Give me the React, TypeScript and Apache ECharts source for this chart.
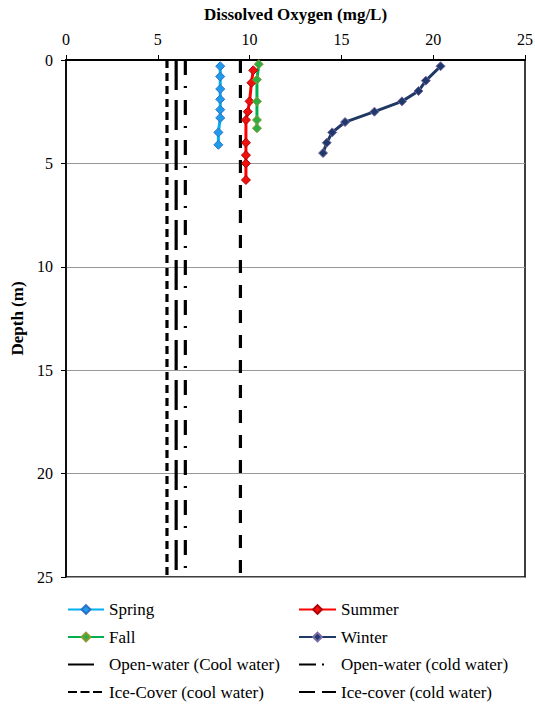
import React, { useEffect, useRef } from "react";
import * as echarts from "echarts";

// Seasonal dissolved-oxygen profiles: [DO (mg/L), depth (m)]
const springDO = [8.4, 8.4, 8.4, 8.4, 8.4, 8.4, 8.3, 8.3];
const springDepth = [0.3, 0.8, 1.4, 1.9, 2.4, 2.8, 3.5, 4.1];

const summerDO = [10.2, 10.1, 10.0, 9.9, 9.8, 9.8, 9.8, 9.8, 9.8];
const summerDepth = [0.5, 1.1, 2.0, 2.5, 2.9, 4.0, 4.6, 5.0, 5.8];

const fallDO = [10.5, 10.4, 10.4, 10.4, 10.4];
const fallDepth = [0.2, 0.95, 2.0, 2.9, 3.3];

const winterDO = [20.4, 19.6, 19.2, 18.3, 16.8, 15.2, 14.5, 14.2, 14.0];
const winterDepth = [0.3, 1.0, 1.5, 2.0, 2.5, 3.0, 3.5, 4.0, 4.5];

// Guideline thresholds (mg/L), drawn over the full depth range
const openWaterCool = 6.0;
const openWaterCold = 6.5;
const iceCoverCool = 5.5;
const iceCoverCold = 9.5;
const depthRange = [0, 25];

const xTicks = [0, 5, 10, 15, 20, 25];

const FONT = "'Liberation Serif', 'Times New Roman', serif";

function pairs(xs: number[], ys: number[]) {
  return xs.map((x, i) => [x, ys[i]]);
}

function profile(name: string, xs: number[], ys: number[], line: string, fill: string, border: string) {
  return {
    name,
    type: "line",
    data: pairs(xs, ys),
    symbol: "diamond",
    symbolSize: 9,
    lineStyle: { color: line, width: 3 },
    itemStyle: { color: fill, borderColor: border, borderWidth: 1 },
    z: 5,
  };
}

function threshold(name: string, x: number, dash: number[]) {
  return {
    name,
    type: "line",
    data: depthRange.map((d) => [x, d]),
    symbol: "none",
    lineStyle: { color: "#000", width: 3.2, type: dash, cap: "butt" },
    // no marker: keep the legend's symbol slot invisible
    itemStyle: { color: "rgba(0,0,0,0)", borderWidth: 0 },
    z: 3,
  };
}

export default function App() {
  const ref = useRef<HTMLDivElement>(null);

  useEffect(() => {
    if (!ref.current) return;
    const chart = echarts.init(ref.current, null, { renderer: "svg" });

    const legendText = { fontFamily: FONT, fontSize: 17, color: "#000" };
    const legendBase = {
      orient: "vertical",
      top: 601,
      padding: 0,
      itemHeight: 11,
      itemGap: 10.5,
      height: 106,
      textStyle: legendText,
    };

    chart.setOption({
      animation: false,
      backgroundColor: "#fff",
      textStyle: { fontFamily: FONT },
      grid: {
        left: 66,
        right: 10,
        top: 60,
        bottom: 130,
        outerBoundsMode: "none",
        containLabel: false,
        show: true,
        borderColor: "#000",
        borderWidth: 1.5,
        backgroundColor: "transparent",
      },
      xAxis: {
        type: "value",
        position: "top",
        min: xTicks[0],
        max: xTicks[xTicks.length - 1],
        interval: 5,
        name: "Dissolved Oxygen (mg/L)",
        nameLocation: "middle",
        nameGap: 37,
        nameTextStyle: { fontFamily: FONT, fontSize: 17, fontWeight: "bold", color: "#000" },
        axisLine: { show: true, lineStyle: { color: "#000", width: 2 } },
        axisTick: { show: true, length: 5, lineStyle: { color: "#000" } },
        axisLabel: { fontFamily: FONT, fontSize: 16, color: "#000", margin: 13 },
        splitLine: { show: false },
      },
      yAxis: {
        type: "value",
        inverse: true,
        min: 0,
        max: 25,
        interval: 5,
        name: "Depth (m)",
        nameLocation: "middle",
        nameGap: 38,
        nameRotate: 90,
        nameTextStyle: { fontFamily: FONT, fontSize: 17, fontWeight: "bold", color: "#000" },
        axisLine: { show: true, lineStyle: { color: "#000", width: 1.5 } },
        axisTick: { show: true, length: 5, lineStyle: { color: "#000" } },
        axisLabel: { fontFamily: FONT, fontSize: 16, color: "#000", margin: 13 },
        splitLine: { show: true, lineStyle: { color: "#999", width: 1 } },
      },
      legend: [
        {
          ...legendBase,
          left: 67,
          itemWidth: 36,
          data: [
            { name: "Spring" },
            { name: "Fall" },
            { name: "Open-water (Cool water)", lineStyle: { type: [26, 20] } },
            { name: "Ice-Cover (cool water)", lineStyle: { type: [9, 3.5] } },
          ],
        },
        {
          ...legendBase,
          left: 298,
          itemWidth: 37,
          data: [
            { name: "Summer" },
            { name: "Winter" },
            { name: "Open-water (cold water)", lineStyle: { type: [17, 6, 2, 20] } },
            { name: "Ice-cover (cold water)", lineStyle: { type: [16, 7] } },
          ],
        },
      ],
      series: [
        threshold("Open-water (Cool water)", openWaterCool, [30, 10]),
        threshold("Open-water (cold water)", openWaterCold, [15, 11, 2, 12]),
        threshold("Ice-Cover (cool water)", iceCoverCool, [8, 5]),
        threshold("Ice-cover (cold water)", iceCoverCold, [13, 12]),
        profile("Spring", springDO, springDepth, "#00B0F0", "#1E9CEB", "#2F6FC8"),
        profile("Summer", summerDO, summerDepth, "#FF0000", "#F01010", "#B00000"),
        profile("Fall", fallDO, fallDepth, "#00B050", "#2DAE45", "#8A9A30"),
        profile("Winter", winterDO, winterDepth, "#1F3864", "#1F3A6A", "#7A68A8"),
      ],
    });

    return () => chart.dispose();
  }, []);

  return (
    <div
      ref={ref}
      style={{ position: "fixed", left: 0, top: 0, width: 535, height: 707, background: "#fff" }}
    />
  );
}
